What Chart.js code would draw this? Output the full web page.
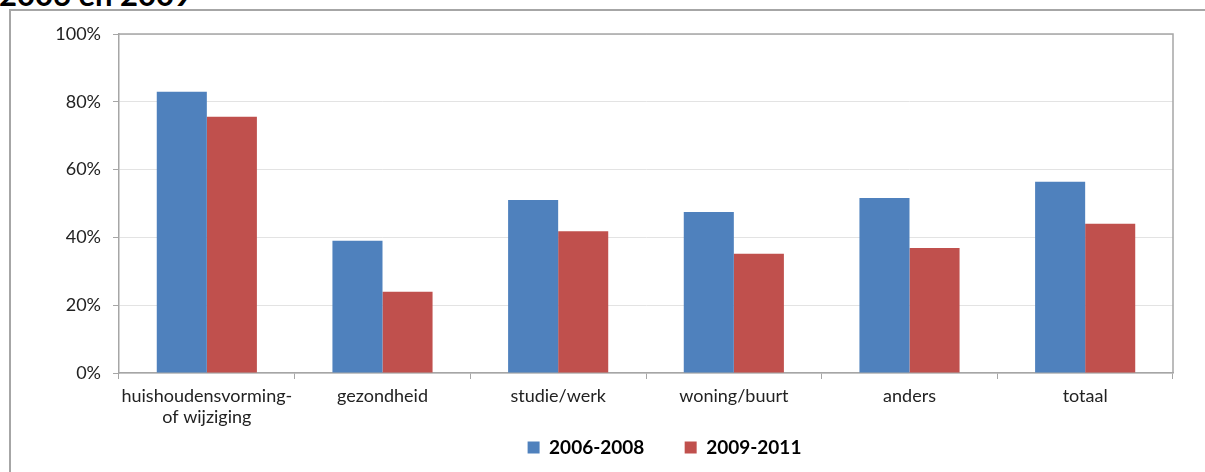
<!DOCTYPE html>
<html>
<head>
<meta charset="utf-8">
<script src="https://cdn.jsdelivr.net/npm/chart.js@4/dist/chart.umd.min.js"></script>
<style>
  html, body { margin: 0; padding: 0; background: #fff; }
  #wrap { position: relative; width: 1205px; height: 472px; overflow: hidden; }
  #frame { position: absolute; left: 9px; top: 9px; right: -5px; bottom: -5px;
           border-left: 2px solid #a6a6a6; border-top: 2px solid #a6a6a6; }
  #title { position: absolute; left: -1px; top: -25px; line-height: 30px;
           font: bold 31px Lato, "Open Sans", sans-serif; color: #000; }
  canvas { position: absolute; left: 0; top: 0; }
</style>
</head>
<body>
<div id="wrap">
  <div id="title">2006 en 2009</div>
  <div id="frame"></div>
  <canvas id="myChart" width="1205" height="472"></canvas>
</div>
<script>
const categories = [
  ["huishoudensvorming-", "of wijziging"],
  "gezondheid",
  "studie/werk",
  "woning/buurt",
  "anders",
  "totaal"
];
const series2006 = [83, 39, 51, 47.5, 51.6, 56.4];
const series2009 = [75.6, 24, 41.8, 35.2, 36.9, 44];
const seriesNames = ["2006-2008", "2009-2011"];
const barColors = ["#4F81BD", "#C0504D"];

const plotFrame = {
  id: "plotFrame",
  afterLayout(chart) {
    // legend sits a bit right of the canvas centre in the original
    chart.legend.left += 78;
    chart.legend.right += 78;
  },
  afterDraw(chart) {
    const a = chart.chartArea;
    const ctx = chart.ctx;
    ctx.save();
    ctx.strokeStyle = "#a6a6a6";
    ctx.lineWidth = 1.5;
    ctx.beginPath();
    ctx.moveTo(a.left, a.top);
    ctx.lineTo(a.right, a.top);
    ctx.lineTo(a.right, a.bottom);
    ctx.stroke();
    ctx.restore();
  }
};

new Chart("myChart", {
  type: "bar",
  data: {
    labels: categories,
    datasets: [
      { label: seriesNames[0], data: series2006, backgroundColor: barColors[0] },
      { label: seriesNames[1], data: series2009, backgroundColor: barColors[1] }
    ]
  },
  options: {
    responsive: false,
    animation: false,
    layout: { padding: { top: 34, right: 32, left: 0, bottom: 5 } },
    datasets: { bar: { categoryPercentage: 0.57, barPercentage: 1 } },
    scales: {
      y: {
        min: 0,
        max: 100,
        afterFit(scale) { scale.width = 119; },
        border: { color: "#a6a6a6", width: 1.5 },
        grid: { color: "#e3e3e3", tickColor: "#a6a6a6", tickLength: 6 },
        ticks: {
          stepSize: 20,
          padding: 12,
          color: "#222",
          font: { family: "Lato", size: 18 },
          callback: v => v + "%"
        }
      },
      x: {
        afterFit(scale) { scale.height = 57; },
        border: { color: "#a6a6a6", width: 1.5 },
        grid: { drawOnChartArea: false, tickColor: "#a6a6a6", tickLength: 6, offset: true },
        ticks: {
          padding: 6,
          color: "#222",
          maxRotation: 0,
          font: { family: "Lato", size: 18, lineHeight: 1.2 }
        }
      }
    },
    plugins: {
      legend: {
        position: "bottom",
        labels: {
          boxWidth: 12,
          boxHeight: 12,
          padding: 8,
          color: "#000",
          font: { family: "Lato", size: 19, weight: "bold" },
          generateLabels(chart) {
            const items = Chart.defaults.plugins.legend.labels.generateLabels(chart);
            // wider gap between the two legend entries
            items[0].text = items[0].text + "\u00a0\u00a0\u00a0\u00a0\u00a0\u00a0\u00a0";
            return items;
          }
        }
      },
      tooltip: { enabled: false }
    }
  },
  plugins: [plotFrame]
});
</script>
</body>
</html>
